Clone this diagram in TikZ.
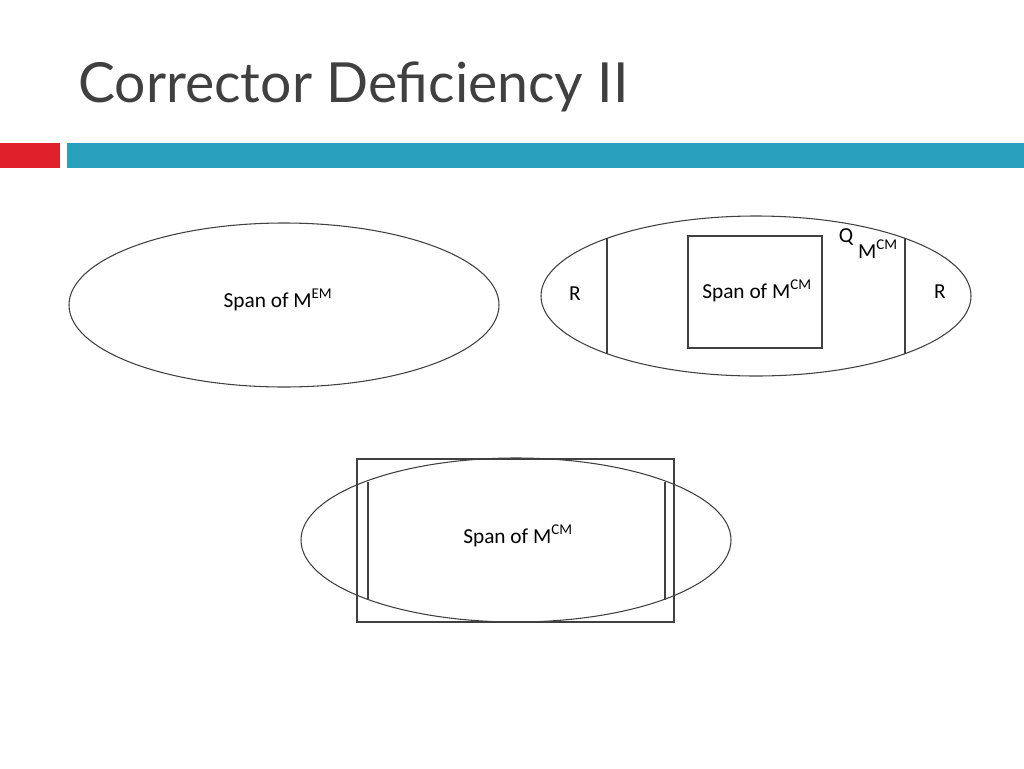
\documentclass[tikz,border=0pt]{standalone}
\usepackage{fontspec}
\setmainfont{Carlito}
\newfontfamily\titlefont{Lato}
\definecolor{tgray}{HTML}{404040}
\definecolor{bblue}{HTML}{2AA0BF}
\definecolor{rred}{HTML}{E0202A}
\begin{document}
\begin{tikzpicture}[x=0.75pt,y=-0.75pt,
  ln/.style={draw=black!75,line width=0.8pt},
  lbl/.style={font=\fontsize{16}{19}\selectfont,inner sep=0pt}]
\useasboundingbox (0,0) rectangle (1024,768);
\node[anchor=base west,inner sep=0pt,text=tgray,font=\titlefont\fontsize{41.5}{48}\selectfont] (title) at (78,102) {Corrector Deficiency II};
\fill[rred] (0,143) rectangle (60,168);
\fill[bblue] (67,143) rectangle (1024,168);
% ellipse 1
\draw[ln] (284,305) ellipse [x radius=215, y radius=82];
\node[lbl] (t1) at (278,300) {Span of M\textsuperscript{EM}};
% ellipse 2
\draw[ln] (756,296) ellipse [x radius=215, y radius=80];
\draw[ln] (607,238) -- (607,354);
\draw[ln] (905,238) -- (905,354);
\draw[ln] (688,236) rectangle (822,348);
\node[lbl] (t2) at (757,291) {Span of M\textsuperscript{CM}};
\node[lbl] (r1) at (575,294) {R};
\node[lbl] (r2) at (940,292) {R};
\node[lbl] (q) at (846,237) {Q};
\node[lbl] (m) at (878,249) {M\textsuperscript{CM}};
% bottom
\draw[ln] (516,540) ellipse [x radius=215, y radius=82];
\draw[ln] (357,459) rectangle (674,622);
\draw[ln] (368,482) -- (368,600);
\draw[ln] (665,482) -- (665,600);
\node[lbl] (t3) at (518,536) {Span of M\textsuperscript{CM}};
\end{tikzpicture}
\end{document}
